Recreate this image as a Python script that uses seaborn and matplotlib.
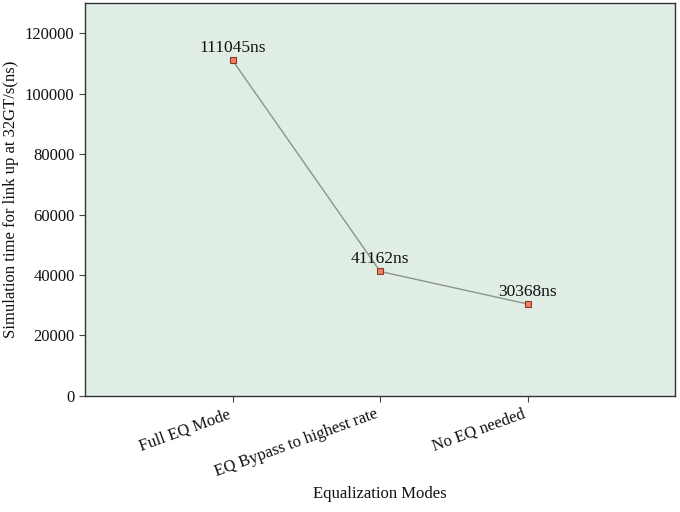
import matplotlib
matplotlib.use('Agg')
import matplotlib.pyplot as plt
import seaborn as sb
import pandas as pd

# data
modes = ['Full EQ Mode', 'EQ Bypass to highest rate', 'No EQ needed']
times = [111045, 41162, 30368]

sb.set_style('white')
plt.rcParams['font.family'] = ['Liberation Serif', 'DejaVu Serif']

df = pd.DataFrame({'mode': modes, 'time': times})

fig, ax = plt.subplots(figsize=(6.8, 5.12), dpi=100)
ax.set_facecolor('#e0ede5')

sb.lineplot(data=df, x='mode', y='time', ax=ax, color='#8a948c', linewidth=1,
            marker='s', markersize=5, markerfacecolor='#f08060',
            markeredgecolor='#8b3a2a', markeredgewidth=0.8, sort=False)

for i, t in enumerate(times):
    ax.annotate('{}ns'.format(t), (i, t), xytext=(0, 3), textcoords='offset points',
                ha='center', va='bottom', fontsize=12.5, color='#111111')

ax.set_xlim(-1, 3)
ax.set_ylim(0, 130000)
ax.set_yticks(range(0, 120001, 20000))
ax.set_xlabel('Equalization Modes', fontsize=12, labelpad=4, color='#111111')
ax.set_ylabel('Simulation time for link up at 32GT/s(ns)', fontsize=12, color='#111111')
plt.xticks(rotation=20, ha='right', fontsize=12, color='#111111')
plt.yticks(fontsize=12, color='#111111')
ax.tick_params(axis='both', length=4, color='#444444', bottom=True, left=True)
for s in ax.spines.values():
    s.set_color('#333333')
    s.set_linewidth(1)

plt.subplots_adjust(left=0.125, right=0.993, top=0.994, bottom=0.227)
plt.savefig('out.png')
